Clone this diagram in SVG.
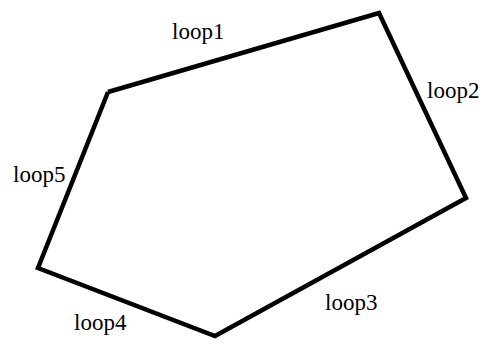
<svg xmlns="http://www.w3.org/2000/svg" width="484" height="346" viewBox="0 0 484 346">
<style>
.edge{fill:none;stroke:#000;stroke-width:4.5;stroke-linejoin:miter}
.lbl{font-family:"Liberation Serif","Times New Roman",serif;font-size:23px;fill:#000}
</style>
<rect width="484" height="346" fill="#fff"/>
<g id="connectors">
<polyline class="edge" points="108,92 379,13 466,198 215,336 38,268 108,92"/>
</g>
<g id="loop1"><text class="lbl" x="172" y="39">loop1</text></g>
<g id="loop2"><text class="lbl" x="427" y="98">loop2</text></g>
<g id="loop3"><text class="lbl" x="325" y="310">loop3</text></g>
<g id="loop4"><text class="lbl" x="74" y="330">loop4</text></g>
<g id="loop5"><text class="lbl" x="13" y="182">loop5</text></g>
</svg>
